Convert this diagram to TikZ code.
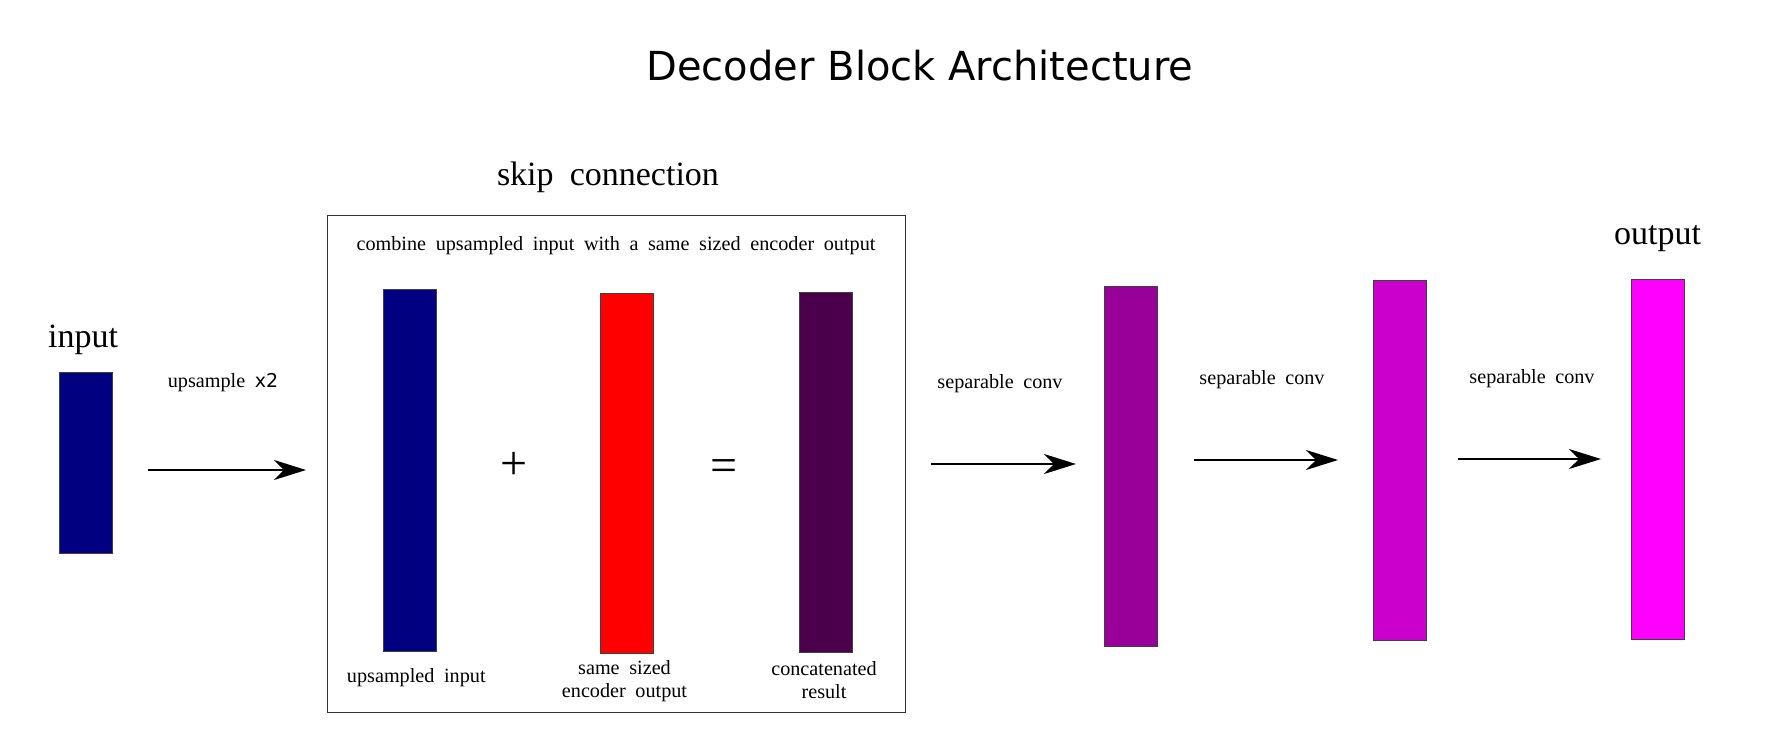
\documentclass[tikz,border=0pt]{standalone}
\usepackage{fontspec}
\setmainfont{Liberation Serif}[WordSpace=1.9]
\newfontfamily\dejavu{DejaVu Sans}
\usetikzlibrary{positioning, arrows.meta}
\definecolor{upblue}{RGB}{0,0,128}
\definecolor{encred}{RGB}{255,0,0}
\definecolor{catpurple}{RGB}{75,0,75}
\definecolor{convone}{RGB}{153,0,153}
\definecolor{convtwo}{RGB}{204,0,204}
\definecolor{convout}{RGB}{255,0,255}

\begin{document}
\begin{tikzpicture}[
  x=0.5pt, y=-0.5pt,
  bar/.style={draw=black!75, line width=0.5pt, minimum width=26.5pt,
    minimum height=180pt, inner sep=0pt},
  flow/.style={-{Stealth[length=16pt, width=10pt, inset=5pt]}, line width=1pt},
  big/.style={font=\fontsize{17}{20}\selectfont},
  small/.style={font=\fontsize{10.1}{11.5}\selectfont, align=center}
]
  \useasboundingbox (0,0) rectangle (1772,744);

  \node[font=\dejavu\fontsize{20}{24}\selectfont] (title) at (920,66) {Decoder Block Architecture};

  % input
  \node[bar, fill=upblue, minimum height=90.5pt] (in) at (86,462.5) {};
  \node[big, above=5pt of in, xshift=-1.5pt] (inlbl) {input};
  \node[small] (uplbl) at (223,383) {upsample {\dejavu\fontsize{9.5}{11}\selectfont x2}};

  % skip connection box
  \node[draw=black!80, line width=0.5pt, minimum width=289pt, minimum height=248.5pt,
    inner sep=0pt] (skipbox) at (616,463.5) {};
  \node[big, above=7.5pt of skipbox, xshift=-4pt] (skiplbl) {skip connection};
  \node[small, below=7.5pt of skipbox.north] (combine)
    {combine upsampled input with a same sized encoder output};

  \node[bar, fill=upblue, minimum height=181pt] (up) at (409.5,470) {};
  \node[bar, fill=encred] (enc) at (626.5,473) {};
  \node[bar, fill=catpurple] (cat) at (826,472) {};
  \node[font=\fontsize{24}{24}\selectfont] (plus) at (514,466) {+};
  \node[font=\fontsize{24}{24}\selectfont] (equals) at (724,471) {=};
  \node[small, below=5pt of up, xshift=3.4pt] (uplabel) {upsampled input};
  \node[small, below=0pt of enc, xshift=-1pt] (enclabel) {same sized\\encoder output};
  \node[small, below=1pt of cat, xshift=-1pt] (catlabel) {concatenated\\result};

  % separable convolutions
  \node[bar, fill=convone] (sc1) at (1131,466) {};
  \node[bar, fill=convtwo] (sc2) at (1399.5,460.5) {};
  \node[bar, fill=convout] (out) at (1657.5,459.5) {};
  \node[big, above=10pt of out] (outlbl) {output};

  \node[small] (convlbl1) at (1000,384) {separable conv};
  \node[small] (convlbl2) at (1262,380) {separable conv};
  \node[small] (convlbl3) at (1532,379) {separable conv};

  \coordinate (a1s) at (148,470);  \coordinate (a1e) at (306,470);
  \coordinate (a2s) at (931,464);  \coordinate (a2e) at (1076,464);
  \coordinate (a3s) at (1194,460); \coordinate (a3e) at (1338,460);
  \coordinate (a4s) at (1458,459); \coordinate (a4e) at (1601,459);

  \draw[flow] (a1s) -- (a1e);
  \draw[flow] (a2s) -- (a2e);
  \draw[flow] (a3s) -- (a3e);
  \draw[flow] (a4s) -- (a4e);
\end{tikzpicture}
\end{document}
